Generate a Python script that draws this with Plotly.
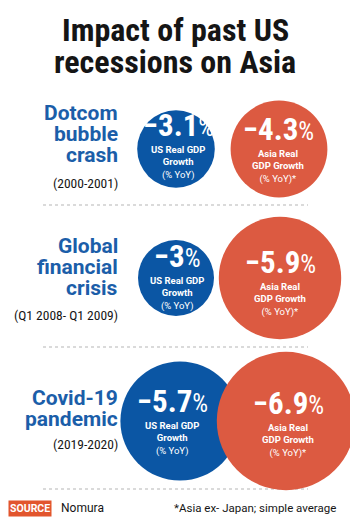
import plotly.graph_objects as go

# ---- data -------------------------------------------------------------
title_lines = ["Impact of past US", "recessions on Asia"]
event_lines = [["Dotcom", "bubble", "crash"],
               ["Global", "financial", "crisis"],
               ["Covid-19", "pandemic"]]
periods = ["(2000-2001)", "(Q1 2008- Q1 2009)", "(2019-2020)"]
us_gdp = [-3.1, -3.0, -5.7]
asia_gdp = [-4.3, -5.9, -6.9]
us_caption = ["US Real GDP", "Growth", "(% YoY)"]
asia_caption = ["Asia Real", "GDP Growth", "(% YoY)*"]
source_name = "Nomura"
footnote = "*Asia ex- Japan; simple average"

# ---- layout constants ---------------------------------------------------
W, H = 350, 525
BLUE = "#0b56a4"
RED = "#dc5a41"
LABEL_BLUE = "#1b5ea9"
INK = "#151515"
COND = "Roboto Condensed, Liberation Sans Narrow, Arial Narrow, Roboto"
SANS = "Roboto"

ROW_Y = [149, 278, 421]          # circle centres per row
US_X = [176, 176, 180]
ASIA_X = [279, 280, 286]
US_TEXT = [(178, 147), (177, 278), (172, 423)]
ASIA_TEXT = [(278, 151), (280, 284), (288, 425)]
LABEL_RIGHT = 120
LABEL_TOP = [112.5, 245.5, 397.5]
LABEL_STEP = 21
PERIOD_Y = [182.5, 314.5, 444]
RULE_Y = [205, 347, 489]


def bubble_diameter(v):
    return 28 + 16 * abs(v)


def pct_text(v):
    return ("\u2212" + f"{abs(v):g}"
            + "<span style='font-size:25px;font-weight:normal'>%</span>")


def caption_text(lines):
    # first two lines bold, the unit line regular
    return "<br>".join(f"<b>{s}</b>" if i < 2 else s
                       for i, s in enumerate(lines))


fig = go.Figure()

# dotted separators (under the bubbles)
for y in RULE_Y:
    fig.add_shape(type="line", x0=43, x1=308, y0=y, y1=y, layer="below",
                  line=dict(color="#b5b5b5", width=1, dash="dot"))

# bubbles: US first, Asia on top
fig.add_trace(go.Scatter(
    x=US_X, y=ROW_Y, mode="markers", hoverinfo="skip",
    marker=dict(size=[bubble_diameter(v) for v in us_gdp], color=BLUE,
                line=dict(width=0), opacity=1)))
fig.add_trace(go.Scatter(
    x=ASIA_X, y=ROW_Y, mode="markers", hoverinfo="skip",
    marker=dict(size=[bubble_diameter(v) for v in asia_gdp], color=RED,
                line=dict(width=0), opacity=1)))

ann = []


def text(x, y, s, size, family, color, weight="normal", xanchor="center"):
    ann.append(dict(x=x, y=y, xref="x", yref="y", text=s, showarrow=False,
                    xanchor=xanchor, yanchor="middle",
                    font=dict(family=family, size=size, color=color,
                              weight=weight)))


# title
for i, line in enumerate(title_lines):
    text(175, 30 + 32 * i, line, 32, COND, INK, "bold")

# row labels
for r in range(3):
    for j, line in enumerate(event_lines[r]):
        text(LABEL_RIGHT, LABEL_TOP[r] + LABEL_STEP * j, line, 21, SANS,
             LABEL_BLUE, "bold", "right")
    text(LABEL_RIGHT, PERIOD_Y[r], periods[r], 13.5, COND, INK, "normal",
         "right")

# bubble texts
for vals, pos, cap in ((us_gdp, US_TEXT, us_caption),
                       (asia_gdp, ASIA_TEXT, asia_caption)):
    for r, v in enumerate(vals):
        cx, cy = pos[r]
        text(cx, cy - 21.5, pct_text(v), 31, COND, "white", "bold")
        text(cx, cy + 15, caption_text(cap), 9.5, SANS, "white")

# footer
ann.append(dict(x=8, y=508, xref="x", yref="y", text="SOURCE",
                showarrow=False, xanchor="left", yanchor="middle",
                bgcolor="#e2552d", borderpad=1,
                font=dict(family=SANS, size=10.5, color="white",
                          weight="bold")))
text(59, 508, source_name, 12, SANS, INK, "normal", "left")
text(338, 508, footnote, 11.5, SANS, INK, "normal", "right")

fig.update_layout(
    width=W, height=H, margin=dict(l=0, r=0, t=0, b=0),
    paper_bgcolor="white", plot_bgcolor="white", showlegend=False,
    xaxis=dict(range=[0, W], visible=False, fixedrange=True),
    yaxis=dict(range=[H, 0], visible=False, fixedrange=True),
    annotations=ann,
)

fig.write_html("out.html")
